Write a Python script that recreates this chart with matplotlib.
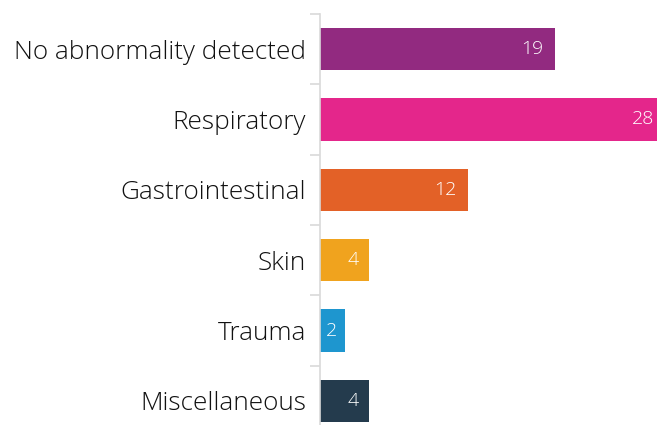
import numpy as np
import matplotlib.pyplot as plt

categories = ["No abnormality detected", "Respiratory", "Gastrointestinal",
              "Skin", "Trauma", "Miscellaneous"]
counts = [19, 28, 12, 4, 2, 4]
colors = ["#922A80", "#E4268B", "#E36127", "#F0A31E", "#1E96CF", "#243B4D"]

plt.rcParams['font.family'] = ['Open Sans', 'DejaVu Sans']

fig = plt.figure(figsize=(6.57, 4.25), dpi=100)
ax = fig.add_axes([320 / 657, -11 / 425, 337 / 657, 422 / 425])

y = np.arange(len(categories))
ax.barh(y, counts, height=0.6, color=colors)
xmax = 27.3
ax.set_xlim(0, xmax)
ax.set_ylim(len(categories) - 0.5, -0.5)

for yi, v in zip(y, counts):
    # small bars get a bit less padding so the number stays inside
    pad = 0.9 if v > 2 else 0.6
    ax.text(v - pad, yi, str(v), color="white", ha="right", va="center",
            fontsize=14, fontweight="light")

ax.set_yticks(y)
ax.set_yticklabels(categories, fontsize=18.8, fontweight="light", color="#111111")
ax.tick_params(axis="y", which="major", length=0, pad=10)
ax.set_yticks(np.arange(-0.5, len(categories)), minor=True)
ax.tick_params(axis="y", which="minor", length=7, color="#d9d9d9", width=1.2)
ax.set_xticks([])
for s in ["top", "right", "bottom"]:
    ax.spines[s].set_visible(False)
ax.spines["left"].set_color("#d9d9d9")
ax.spines["left"].set_linewidth(1.2)

fig.savefig("out.png", dpi=100)
